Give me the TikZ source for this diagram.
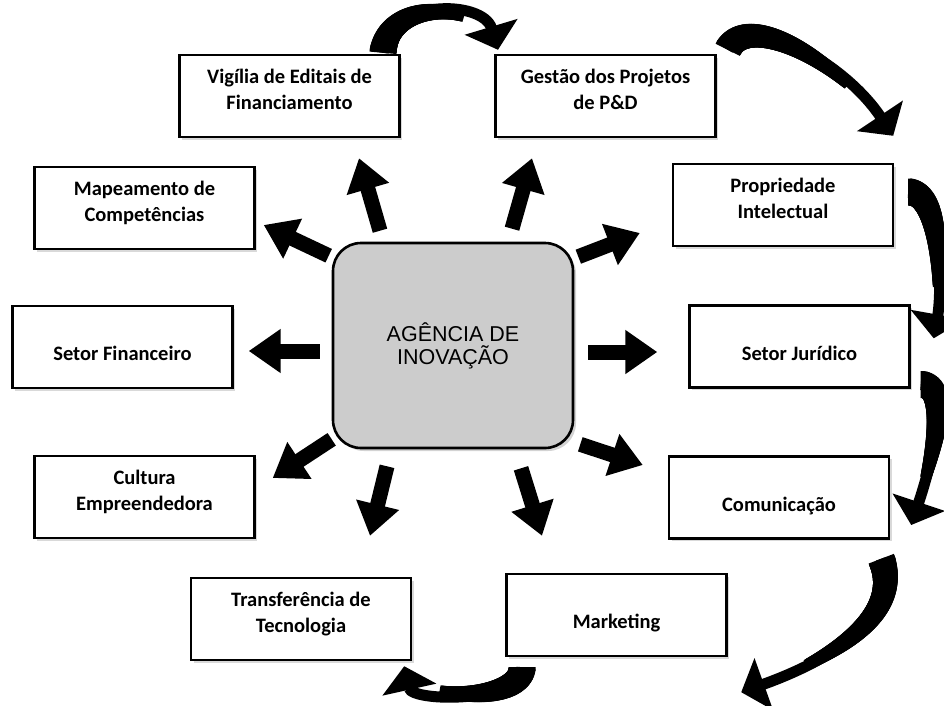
\documentclass[tikz,border=0pt]{standalone}
\usepackage{fontspec}
\setmainfont{Carlito}
\newfontfamily\arialfont{Liberation Sans}
\usetikzlibrary{arrows.meta,shadows,decorations.markings}

\newcommand{\textocaixa}[2]{\parbox[c][70pt][t]{208pt}{\centering\rule{0pt}{22pt}#1\\#2}}

\tikzset{
  caixa/.style={draw, line width=2.4pt, fill=white, inner sep=6pt,
    font=\bfseries\fontsize{20.5}{26.5}\selectfont,
    drop shadow={shadow xshift=2.5pt, shadow yshift=-2.5pt, opacity=0.3}},
  agencia/.style={draw, line width=2.6pt, fill=black!20, rounded corners=28pt,
    minimum width=240pt, minimum height=205pt, align=center,
    font=\arialfont\fontsize{21.5}{23}\selectfont,
    drop shadow={shadow xshift=3pt, shadow yshift=-3pt, opacity=0.35}},
  seta/.style={line width=15pt, -{Triangle[width=42pt,length=32pt]}},
  ciclo/.style={line width=11pt, -{Triangle[width=54pt,length=24pt]},
    postaction={decorate, decoration={markings,
      mark=between positions 0 and 0.65 step 1pt with {%
        \pgfmathsetmacro\meia{13.5-8*\pgfkeysvalueof{/pgf/decoration/mark info/distance from start}/(0.65*\pgfdecoratedpathlength)}%
        \fill (0,-\meia) rectangle (4,\meia);}}}}
}

\begin{document}
\begin{tikzpicture}[x=1pt,y=-1pt]
  \useasboundingbox (0,0) rectangle (944,705);
  \clip (0,0) rectangle (944,705);

  % caixas
  \node[caixa] (vig) at (289.5,96) {\textocaixa{Vigília de Editais de}{Financiamento}};
  \node[caixa] (ges) at (605.5,96) {\textocaixa{Gestão dos Projetos}{de P\&D}};
  \node[caixa] (map) at (144.5,208) {\textocaixa{Mapeamento de}{Competências}};
  \node[caixa] (pro) at (783,205) {\textocaixa{Propriedade}{Intelectual}};
  \node[caixa] (fin) at (122.5,347) {\textocaixa{}{Setor Financeiro}};
  \node[caixa] (jur) at (799.5,346.5) {\textocaixa{}{Setor Jurídico}};
  \node[caixa] (cul) at (144.5,497) {\textocaixa{Cultura}{Empreendedora}};
  \node[caixa] (com) at (779,497.5) {\textocaixa{}{Comunicação}};
  \node[caixa] (tra) at (301,619) {\textocaixa{Transferência de}{Tecnologia}};
  \node[caixa] (mar) at (616.5,615) {\textocaixa{}{Marketing}};
  \node[agencia] (age) at (453,345.5) {AGÊNCIA DE\\INOVAÇÃO};

  % setas para fora
  \draw[seta] ([shift={(-73,-11)}]age.north) -- ([shift={(69.5,20)}]vig.south);
  \draw[seta] ([shift={(59,-13)}]age.north) -- ([shift={(-73.5,20)}]ges.south);
  \draw[seta] ([shift={(-3,14)}]age.north west) -- ([shift={(8,17)}]map.east);
  \draw[seta] ([shift={(4,15)}]age.north east) -- ([shift={(-32,28)}]pro.west);
  \draw[seta] ([shift={(-12,5.5)}]age.west) -- ([shift={(15,4)}]fin.east);
  \draw[seta] ([shift={(14,6.5)}]age.east) -- ([shift={(-31,5.5)}]jur.west);
  \draw[seta] ([shift={(0,-10)}]age.south west) -- ([shift={(17,-19)}]cul.east);
  \draw[seta] ([shift={(6,-5)}]age.south east) -- ([shift={(-25,-32.5)}]com.west);
  \draw[seta] ([shift={(-66,17)}]age.south) -- ([shift={(69,-41)}]tra.north);
  \draw[seta] ([shift={(68,19)}]age.south) -- ([shift={(-74.5,-37)}]mar.north);

  % ciclo
  \draw[ciclo] ([shift={(93.5,-1)}]vig.north) .. controls +(5,-55) and +(-15,-50) .. ([shift={(-107.5,-4)}]ges.north);
  \draw[ciclo] ([shift={(11,-4)}]ges.north east) .. controls +(20,-40) and +(-50,-75) .. ([shift={(-1,-27)}]pro.north east);
  \draw[ciclo] ([shift={(14,-13)}]pro.east) .. controls +(35,0) and +(8,-45) .. ([shift={(23,34)}]jur.north east);
  \draw[ciclo] ([shift={(10,38)}]jur.east) .. controls +(35,0) and +(15,-45) .. ([shift={(21,27.5)}]com.east);
  \draw[ciclo] ([shift={(-9,19)}]com.south east) .. controls +(25,65) and +(70,-25) .. ([shift={(-149,152.5)}]com.south east);
  \draw[ciclo] ([shift={(-94.5,10)}]mar.south) .. controls +(0,36) and +(8,36) .. ([shift={(-8,5)}]tra.south east);
\end{tikzpicture}
\end{document}
